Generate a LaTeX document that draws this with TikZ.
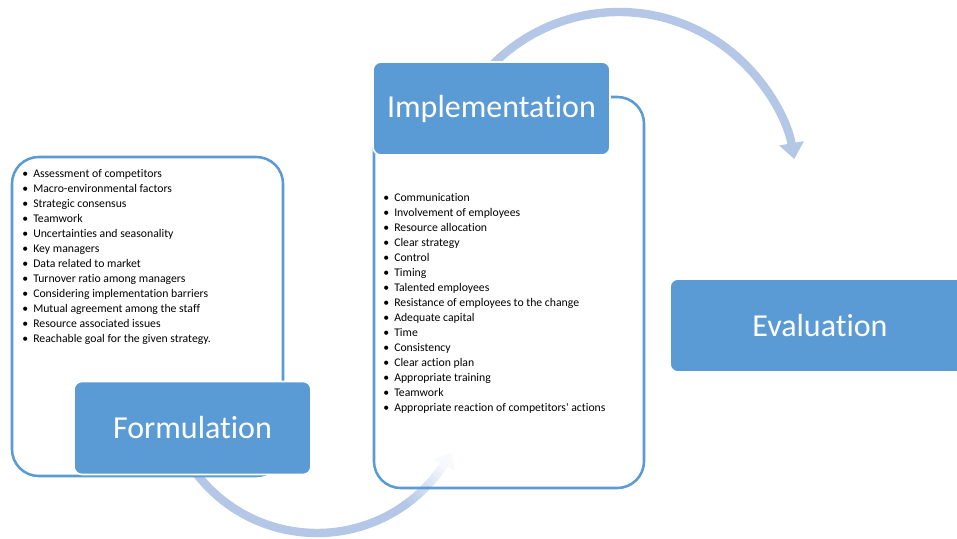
\documentclass[tikz,border=0pt]{standalone}
\usepackage{fontspec}
\setmainfont{Carlito}[Ligatures={NoCommon}]
\usetikzlibrary{arrows.meta}
\definecolor{boxblue}{HTML}{5B9BD5}
\definecolor{arcblue}{HTML}{B4C7E7}
\newcommand\mybul{\makebox[8.25pt][l]{•}}
\begin{document}
\begin{tikzpicture}[x=0.75pt,y=0.75pt,
  fillbox/.style={draw=white, line width=1.2pt, fill=boxblue, rounded corners=6pt, text=white,
    font=\fontsize{24}{28}\selectfont, minimum height=69.75pt, inner sep=0pt},
  outlinebox/.style={draw=boxblue, line width=1.9pt, rounded corners=20pt, inner sep=0pt},
  arcline/.style={draw=arcblue, line width=6.3pt},
  listitem/.style={anchor=base west, inner sep=0pt, font=\fontsize{8.8}{11}\selectfont, text=black}]
\useasboundingbox (0,0) rectangle (957,539);
\clip (0,0) rectangle (957,539);
% arcs
\draw[arcline, -{Triangle[width=18pt,length=12pt]}] ([shift={(619,349)}]137:133.5pt) arc[start angle=137,end angle=10,radius=133.5pt];
\draw[draw=arcblue!9!white, line width=6.3pt, -{Triangle[width=18pt,length=11pt]}] ([shift={(317,158)}]-42:114pt) arc[start angle=-42,end angle=-28,radius=114pt];
\draw[arcline] ([shift={(317,158)}]-143:114pt) arc[start angle=-143,end angle=-54,radius=114pt];
\foreach \a in {-55,-53,...,-35}{
  \pgfmathtruncatemacro\p{100-88*(\a+55)/20}
  \pgfmathsetmacro\b{\a+2.5}
  \draw[draw=arcblue!\p!white, line width=6.3pt] ([shift={(317,158)}]\a:114pt) arc[start angle=\a,end angle=\b,radius=114pt];
}
% outlines
\node[outlinebox, minimum width=203.25pt, minimum height=239.25pt] (fo) at (147.5,222.5) {};
\node[outlinebox, minimum width=202.5pt, minimum height=293.25pt] (io) at (509,246.5) {};
% filled boxes
\node[fillbox, minimum width=177.75pt] (fb) at (192.5,111) {Formulation};
\node[fillbox, minimum width=177.75pt] (ib) at (491.5,430.5) {Implementation};
\node[fillbox, minimum width=225pt] (eb) at (820,213.5) {Evaluation};
% lists
\foreach \t [count=\i] in {Assessment of competitors, Macro-environmental factors, Strategic consensus, Teamwork, Uncertainties and seasonality, Key managers, Data related to market, Turnover ratio among managers, Considering implementation barriers, Mutual agreement among the staff, Resource associated issues, Reachable goal for the given strategy.}{
  \node[listitem] (f\i) at (22,{376-15*\i}) {\mybul\t};
}
\foreach \t [count=\i] in {Communication, Involvement of employees, Resource allocation, Clear strategy, Control, Timing, Talented employees, Resistance of employees to the change, Adequate capital, Time, Consistency, Clear action plan, Appropriate training, Teamwork, Appropriate reaction of competitors\textquotesingle{} actions}{
  \node[listitem] (i\i) at (383,{352-15*\i}) {\mybul\t};
}
\end{tikzpicture}
\end{document}
